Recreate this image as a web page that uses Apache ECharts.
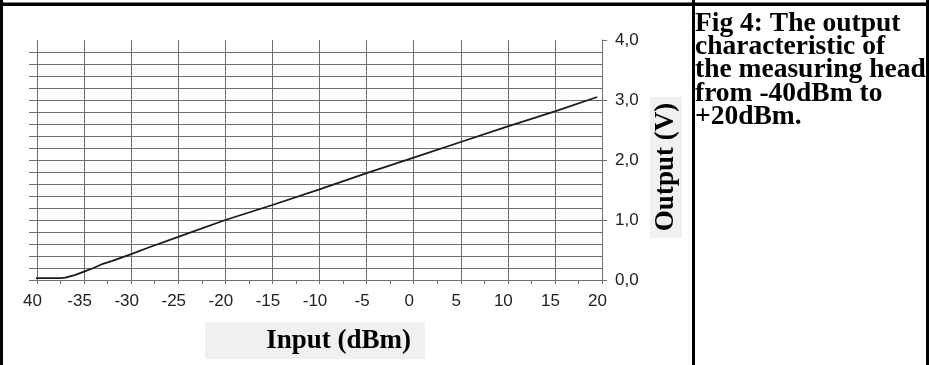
<!DOCTYPE html>
<html>
<head>
<meta charset="utf-8">
<script src="https://cdn.jsdelivr.net/npm/echarts@6/dist/echarts.min.js"></script>
<style>
html,body{margin:0;padding:0;background:#fff;}
#c{width:929px;height:365px;}
</style>
</head>
<body>
<div id="c"></div>
<script>
// Data
var inputDbm = [-40.5, -37.5, -37, -36, -35, -34, -33, -32, -30, -28, -25, -20, -15, -10, -5, 0, 5, 10, 15, 19.5];
var outputV  = [0.03, 0.03, 0.04, 0.08, 0.14, 0.20, 0.27, 0.32, 0.43, 0.55, 0.72, 1.00, 1.25, 1.51, 1.78, 2.04, 2.30, 2.56, 2.81, 3.05];
var xTickLabels = ['40', '-35', '-30', '-25', '-20', '-15', '-10', '-5', '0', '5', '10', '15', '20'];
var yTickLabels = ['0,0', '1,0', '2,0', '3,0', '4,0'];
var xTitle = 'Input (dBm)';
var yTitle = 'Output (V)';
var captionLines = ['Fig 4: The output', 'characteristic of', 'the measuring head', 'from -40dBm to', '+20dBm.'];

var seriesData = inputDbm.map(function (x, i) { return [x, outputV[i]]; });
var gridColor = '#6e6e6e';
var labelFont = '"Liberation Sans", Arial, sans-serif';
var titleFont = '"Liberation Serif", "Times New Roman", serif';

var chart = echarts.init(document.getElementById('c'), null, {renderer: 'canvas'});
chart.setOption({
  animation: false,
  backgroundColor: '#ffffff',
  grid: [
    {left: 29, width: 573, top: 40, height: 240, containLabel: false},
    {left: 37, width: 565, top: 40, height: 240, containLabel: false}
  ],
  xAxis: [
    {gridIndex: 0, type: 'value', min: 0, max: 1, show: false, axisLine: {onZero: false}},
    {gridIndex: 1, type: 'value', min: -40, max: 20, interval: 5,
      axisLine: {show: false, onZero: false},
      axisTick: {show: true, length: 4, lineStyle: {color: gridColor, width: 1}},
      minorTick: {show: true, splitNumber: 2, length: 4, lineStyle: {color: gridColor, width: 1}},
      splitLine: {show: true, lineStyle: {color: gridColor, width: 1}},
      axisLabel: {
        margin: 13, color: '#222', fontSize: 17, fontFamily: labelFont,
        padding: [0, 9, 0, 0],
        formatter: function (v) { return xTickLabels[Math.round((v + 40) / 5)]; }
      }
    }
  ],
  yAxis: [
    {gridIndex: 0, type: 'value', min: 0, max: 4, interval: 0.2,
      axisLine: {show: false, onZero: false}, axisTick: {show: false}, axisLabel: {show: false},
      splitLine: {show: true, showMaxLine: false, lineStyle: {color: gridColor, width: 1}}
    },
    {gridIndex: 1, type: 'value', position: 'right', min: 0, max: 4, interval: 1,
      axisLine: {show: true, onZero: false, lineStyle: {color: gridColor, width: 1}},
      axisTick: {show: true, length: 5, lineStyle: {color: gridColor, width: 1}},
      splitLine: {show: false},
      axisLabel: {
        margin: 13, color: '#222', fontSize: 17, fontFamily: labelFont,
        formatter: function (v) { return yTickLabels[Math.round(v)]; }
      }
    }
  ],
  series: [{
    type: 'line',
    xAxisIndex: 1, yAxisIndex: 1,
    data: seriesData,
    showSymbol: false,
    smooth: false,
    lineStyle: {color: '#1a1a1a', width: 1.8},
    z: 5
  }],
  graphic: [
    // frame
    {type: 'rect', shape: {x: 0, y: 0, width: 3, height: 365}, style: {fill: '#000'}, z: 100},
    {type: 'rect', shape: {x: 0, y: 2.5, width: 929, height: 3.5}, style: {fill: '#000'}, z: 100},
    {type: 'rect', shape: {x: 926, y: 0, width: 3, height: 365}, style: {fill: '#000'}, z: 100},
    {type: 'rect', shape: {x: 692, y: 0, width: 3, height: 365}, style: {fill: '#000'}, z: 100},
    // axis title boxes
    {type: 'rect', shape: {x: 205, y: 322, width: 220, height: 37}, style: {fill: '#f0f0f0'}, z: 10},
    {type: 'text', x: 411, y: 341, z: 11,
      style: {text: xTitle, align: 'right', verticalAlign: 'middle', fill: '#000',
        fontSize: 27, fontWeight: 'bold', fontFamily: titleFont}},
    {type: 'rect', shape: {x: 650, y: 97, width: 32, height: 141}, style: {fill: '#f0f0f0'}, z: 10},
    {type: 'text', x: 666, y: 167, rotation: Math.PI / 2, z: 11,
      style: {text: yTitle, align: 'center', verticalAlign: 'middle', fill: '#000',
        fontSize: 27, fontWeight: 'bold', fontFamily: titleFont}},
    // caption
    {type: 'text', x: 695, y: 12, z: 11,
      style: {text: captionLines.join('\n'), align: 'left', verticalAlign: 'top', fill: '#000',
        fontSize: 27.5, lineHeight: 23.3, fontWeight: 'bold', fontFamily: titleFont}}
  ]
});
</script>
</body>
</html>
